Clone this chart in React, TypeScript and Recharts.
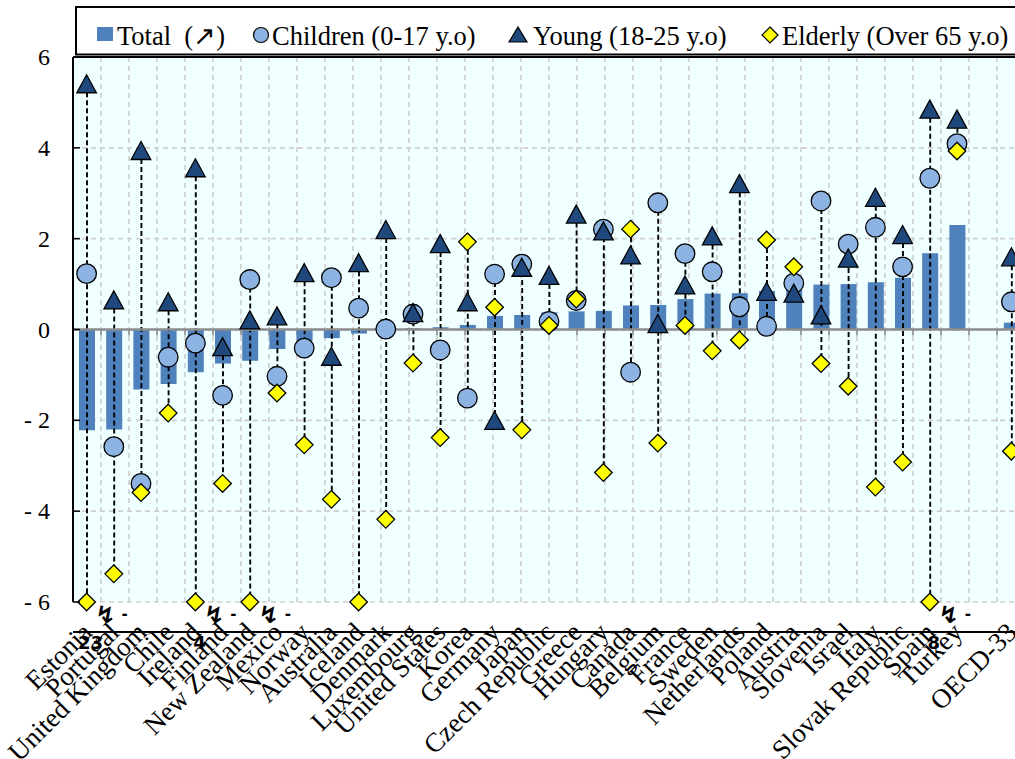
import React from "react";
import {
  ComposedChart,
  Bar,
  Line,
  XAxis,
  YAxis,
  CartesianGrid,
  ReferenceLine,
} from "recharts";

const categories = [
  "Estonia", "Portugal", "United Kingdom", "Chile", "Ireland", "Finland",
  "New Zealand", "Mexico", "Norway", "Australia", "Iceland", "Denmark",
  "Luxembourg", "United States", "Korea", "Germany", "Japan", "Czech Republic",
  "Greece", "Hungary", "Canada", "Belgium", "France", "Sweden", "Netherlands",
  "Poland", "Austria", "Slovenia", "Israel", "Italy", "Slovak Republic",
  "Spain", "Turkey", " ", "OECD-33",
];

const totalValues = [
  -2.22, -2.2, -1.32, -1.2, -0.94, -0.75, -0.69, -0.43, -0.25, -0.19, -0.09,
  -0.03, 0.03, 0.05, 0.1, 0.3, 0.32, 0.38, 0.4, 0.41, 0.53, 0.54, 0.67, 0.79,
  0.8, 0.85, 0.88, 0.99, 1.0, 1.04, 1.14, 1.68, 2.3, null, 0.15,
];

const childrenValues = [
  1.23, -2.58, -3.39, -0.61, -0.3, -1.45, 1.1, -1.03, -0.41, 1.14, 0.47, 0.01,
  0.34, -0.45, -1.51, 1.22, 1.44, 0.18, 0.64, 2.21, -0.94, 2.79, 1.67, 1.27,
  0.5, 0.07, 1.02, 2.83, 1.88, 2.25, 1.38, 3.33, 4.09, null, 0.61,
];

const youngValues = [
  5.4, 0.64, 3.93, 0.6, 3.55, -0.39, 0.2, 0.29, 1.24, -0.6, 1.46, 2.19, 0.36,
  1.88, 0.6, -2.01, 1.36, 1.18, 2.53, 2.16, 1.63, 0.12, 0.97, 2.05, 3.2, 0.83,
  0.79, 0.31, 1.56, 2.9, 2.08, 4.84, 4.62, null, 1.59,
];

const elderlyValues = [
  -6, -5.38, -3.59, -1.84, -6, -3.39, -6, -1.4, -2.54, -3.74, -6, -4.18, -0.74,
  -2.38, 1.93, 0.49, -2.21, 0.09, 0.67, -3.15, 2.21, -2.5, 0.09, -0.47, -0.23,
  1.97, 1.38, -0.75, -1.25, -3.47, -2.92, -6, 3.93, null, -2.68,
];

// off-scale markers: category -> note printed under the break symbol
const breakNotes: Record<string, string> = {
  Estonia: "23",
  Ireland: "4",
  "New Zealand": "",
  Spain: "8",
};

const yTicks = [-6, -4, -2, 0, 2, 4, 6];
const boundaryTicks = Array.from({ length: categories.length + 1 }, (_, i) => i);

const seriesNames = [
  "Total  (\u2197)",
  "Children (0-17 y.o)",
  "Young (18-25 y.o)",
  "Elderly (Over 65 y.o)",
];

const BAR_COLOR = "#4F81BD";
const CHILD_COLOR = "#8DB3E2";
const YOUNG_COLOR = "#1F497D";
const ELDER_COLOR = "#FFFF00";
const SERIF = "'Liberation Serif', 'Times New Roman', serif";

const data = categories.map((name, i) => {
  const vals = [childrenValues[i], youngValues[i], elderlyValues[i]].filter(
    (v) => v !== null && v !== undefined
  ) as number[];
  return {
    name,
    total: totalValues[i],
    children: childrenValues[i],
    young: youngValues[i],
    elderly: elderlyValues[i],
    range: vals.length ? [Math.min(...vals), Math.max(...vals)] : null,
  };
});

const Connector = (p: any) => {
  if (p.height === undefined || p.y === undefined || !p.payload || !p.payload.range) return <g />;
  const cx = p.x + p.width / 2;
  const y1 = Math.min(p.y, p.y + p.height);
  const y2 = Math.max(p.y, p.y + p.height);
  return (
    <line x1={cx} x2={cx} y1={y1} y2={y2} stroke="#000" strokeWidth={1.9} strokeDasharray="5 3" />
  );
};

const circleDot = (p: any) => {
  if (p.cy === null || p.cy === undefined || p.value === null) return <g key={`c${p.index}`} />;
  return <circle key={`c${p.index}`} cx={p.cx} cy={p.cy} r={9.8} fill={CHILD_COLOR} stroke="#000" strokeWidth={1.3} />;
};

const triangleDot = (p: any) => {
  if (p.cy === null || p.cy === undefined || p.value === null) return <g key={`t${p.index}`} />;
  const { cx, cy } = p;
  const pts = `${cx},${cy - 9.5} ${cx + 9.8},${cy + 8.5} ${cx - 9.8},${cy + 8.5}`;
  return <polygon key={`t${p.index}`} points={pts} fill={YOUNG_COLOR} stroke="#000" strokeWidth={1.3} strokeLinejoin="miter" />;
};

const diamondDot = (p: any) => {
  if (p.cy === null || p.cy === undefined || p.value === null) return <g key={`d${p.index}`} />;
  const { cx, cy } = p;
  const s = 8.8;
  const pts = `${cx},${cy - s} ${cx + s},${cy} ${cx},${cy + s} ${cx - s},${cy}`;
  const note = p.payload ? breakNotes[p.payload.name] : undefined;
  return (
    <g key={`d${p.index}`}>
      <polygon points={pts} fill={ELDER_COLOR} stroke="#000" strokeWidth={1.3} />
      {note !== undefined && (
        <g fontFamily="'DejaVu Sans', sans-serif" fontWeight="bold" fill="#000">
          <text x={cx + 19} y={cy + 21} fontSize={24} textAnchor="middle">{"\u21AF"}</text>
          <text x={cx + 38} y={cy + 17} fontSize={15} textAnchor="middle">-</text>
          <text x={cx + 4} y={cy + 47} fontSize={18} textAnchor="middle">{note}</text>
        </g>
      )}
    </g>
  );
};

const YTick = (p: any) => {
  const v = p.payload.value;
  const label = v < 0 ? `- ${Math.abs(v)}` : `${v}`;
  return (
    <g>
      <line x1={p.x} x2={p.x + 7} y1={p.y} y2={p.y} stroke="#000" strokeWidth={1.5} />
      <text x={p.x - 23} y={p.y + 8} textAnchor="end" fontFamily={SERIF} fontSize={24} fill="#000">
        {label}
      </text>
    </g>
  );
};

const XTick = (p: any) => {
  const ax = p.x + 7;
  const ay = p.y + 2;
  return (
    <text
      x={ax}
      y={ay}
      textAnchor="end"
      transform={`rotate(-45, ${ax}, ${ay})`}
      fontFamily={SERIF}
      fontSize={27}
      fill="#000"
    >
      {p.payload.value}
    </text>
  );
};

const VerticalGrid = (p: any) => {
  const zeroY = (p.y1 + p.y2) / 2;
  return (
    <g key={`vg${p.index}`}>
      <line x1={p.x1} x2={p.x2} y1={p.y1} y2={p.y2} stroke="#D0D0D0" strokeWidth={1.7} strokeDasharray="5 4" />
      <line x1={p.x1} x2={p.x1} y1={zeroY} y2={zeroY + 6} stroke="#8C8C8C" strokeWidth={1.6} />
    </g>
  );
};

const LegendBox = () => (
  <svg width={1015} height={62} style={{ position: "absolute", left: 0, top: 0, pointerEvents: "none" }}>
    <rect x={76} y={7} width={1000} height={47.5} fill="#FFFFFF" stroke="#000" strokeWidth={2} />
    <rect x={97} y={27} width={16} height={14} fill={BAR_COLOR} />
    <circle cx={261} cy={35} r={7.5} fill={CHILD_COLOR} stroke="#000" strokeWidth={1.2} />
    <polygon points="518,27 527,42 509,42" fill={YOUNG_COLOR} stroke="#000" strokeWidth={1.2} />
    <polygon points="770,27 778,35 770,43 762,35" fill={ELDER_COLOR} stroke="#000" strokeWidth={1.2} />
    <g fontFamily={SERIF} fontSize={26.5} fill="#000" style={{ whiteSpace: "pre" }}>
      <text x={117} y={45} xmlSpace="preserve">{seriesNames[0]}</text>
      <text x={272} y={45}>{seriesNames[1]}</text>
      <text x={533} y={45}>{seriesNames[2]}</text>
      <text x={782} y={45}>{seriesNames[3]}</text>
    </g>
  </svg>
);

export default function App() {
  return (
    <div style={{ position: "absolute", left: 0, top: 0, width: 1015, height: 759, overflow: "hidden", background: "#fff" }}>
      <ComposedChart
        width={1030}
        height={759}
        data={data}
        margin={{ top: 57, right: 5, left: 0, bottom: 0 }}
        barGap={0}
      >
        <XAxis xAxisId="num" type="number" domain={[0, categories.length]} ticks={boundaryTicks} hide allowDataOverflow />
        <XAxis xAxisId="b" dataKey="name" hide />
        <XAxis
          xAxisId="cat"
          dataKey="name"
          interval={0}
          height={157}
          tickSize={0}
          tickMargin={0}
          tickLine={false}
          axisLine={{ stroke: "#000", strokeWidth: 2 }}
          tick={<XTick />}
        />
        <YAxis
          domain={[-6, 6]}
          ticks={yTicks}
          width={73}
          tickSize={0}
          tickMargin={0}
          tickLine={false}
          axisLine={{ stroke: "#000", strokeWidth: 2 }}
          tick={<YTick />}
          interval={0}
        />
        <CartesianGrid
          xAxisId="num"
          fill="#F0FFFF"
          stroke="#D0D0D0"
          strokeWidth={1.6}
          strokeDasharray="5 4"
          vertical={VerticalGrid}
        />
        <ReferenceLine xAxisId="cat" y={6} stroke="#000" strokeWidth={2} />
        <ReferenceLine xAxisId="cat" y={0} stroke="#8C8C8C" strokeWidth={2.5} />
        <Bar xAxisId="cat" dataKey="total" fill={BAR_COLOR} barSize={16} isAnimationActive={false} />
        <Bar xAxisId="b" dataKey="range" barSize={2} shape={<Connector />} isAnimationActive={false} />
        <Line xAxisId="cat" dataKey="children" stroke="none" dot={circleDot} activeDot={false} isAnimationActive={false} />
        <Line xAxisId="cat" dataKey="young" stroke="none" dot={triangleDot} activeDot={false} isAnimationActive={false} />
        <Line xAxisId="cat" dataKey="elderly" stroke="none" dot={diamondDot} activeDot={false} isAnimationActive={false} />
      </ComposedChart>
      <LegendBox />
    </div>
  );
}
